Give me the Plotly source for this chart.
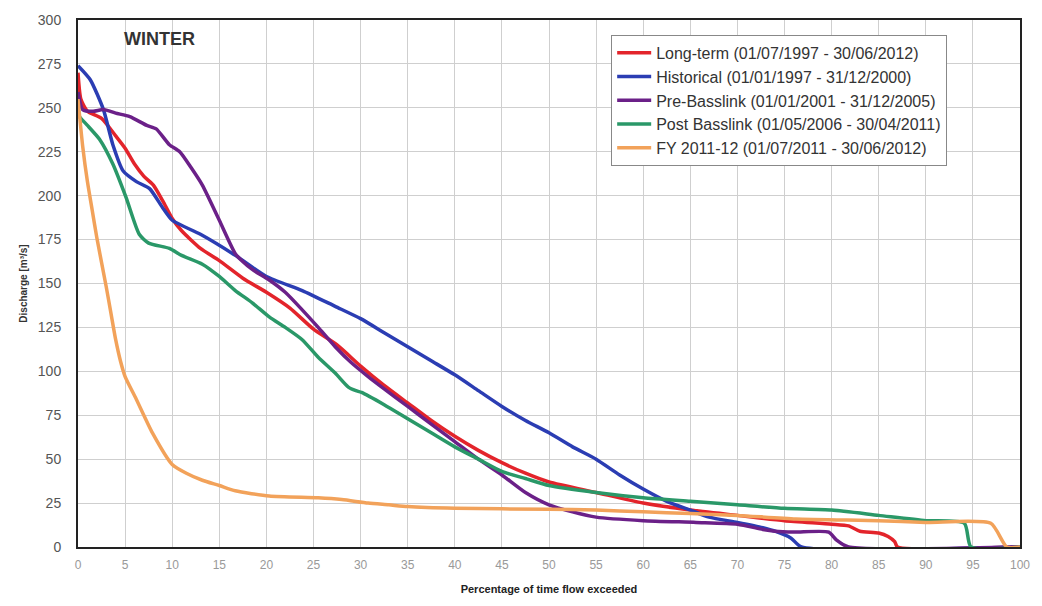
import plotly.graph_objects as go

# ---- data ----
names = [
    "Long-term (01/07/1997 - 30/06/2012)",
    "Historical (01/01/1997 - 31/12/2000)",
    "Pre-Basslink (01/01/2001 - 31/12/2005)",
    "Post Basslink (01/05/2006 - 30/04/2011)",
    "FY 2011-12 (01/07/2011 - 30/06/2012)",
]

longterm_x = [0, 0.3, 1, 2.5, 4, 5, 6, 7, 8, 9, 10, 11, 13, 15, 17.5, 20, 22.5, 25, 27.5, 30,
              32.5, 35, 37.5, 40, 42.5, 45, 47.5, 50, 55, 60, 65, 70, 75, 80, 81.8, 83, 85, 86,
              86.7, 87, 100]
longterm_y = [270, 255, 248, 244, 234, 227, 218, 211, 206, 197, 187, 180, 170, 163, 153, 145, 136,
              124, 115, 103, 92, 82, 72, 63, 55, 48, 42, 37, 31, 25, 21, 18, 15, 13, 12, 9, 8, 6,
              3, 0, 0]

historical_x = [0, 1.3, 2.7, 3.7, 4.8, 6.2, 7.6, 9, 10, 13, 16.7, 20, 23.8, 27.3, 30, 32.5, 35,
                37.5, 40, 42.5, 45, 47.5, 50, 52.5, 55, 57.5, 60, 62.5, 65, 67, 70, 72.7, 74,
                75.7, 76.8, 100]
historical_y = [274, 266, 249, 229, 214, 208, 204, 193, 186, 178, 166, 154, 146, 137, 130, 122, 114,
                106, 98, 89, 80, 72, 65, 57, 50, 41, 33, 26, 21, 17, 14, 11, 9, 5, 0, 0]

prebass_x = [0, 0.5, 1.6, 2.7, 4, 5.5, 7.3, 8.3, 9.7, 10.8, 12, 13.2, 15, 16.7, 17.4, 18.5, 20.3,
             22, 23.8, 25.5, 27.3, 29, 30.8, 32.5, 35, 37.5, 40, 42.5, 45, 47.5, 50, 52.5, 55, 60,
             65.6, 70, 72.7, 74, 76, 79.7, 80.5, 81.8, 100]
prebass_y = [259, 249, 248, 249, 247, 245, 240, 238, 229, 225, 216, 206, 186, 167, 163, 158, 152,
             145, 135, 125, 114, 105, 97, 90, 80, 70, 60, 50, 41, 31, 24, 20, 17, 15, 14, 13, 10,
             9, 8.5, 8.5, 4, 0, 0]

postbass_x = [0, 0.3, 1, 2.3, 3.7, 5.1, 6.5, 7.5, 9.7, 11, 13.2, 15, 16.7, 18.5, 20.3, 22, 23.8,
              25.5, 27.3, 28.7, 29.5, 30.1, 32.5, 35, 37.5, 40, 42.5, 45, 47.5, 50, 55, 60, 65,
              70, 75, 80, 85, 90, 94.1, 94.8, 100]
postbass_y = [246, 244, 240, 232, 218, 199, 178, 173, 170, 166, 161, 154, 146, 139, 131, 125, 118,
              108, 99, 91, 89, 88, 81, 73, 65, 57, 50, 43, 39, 35, 31, 28, 26, 24, 22, 21, 18, 15,
              13.5, 0, 0]

fy_x = [0, 0.5, 1, 1.5, 2, 3, 3.5, 4, 4.5, 5, 6.2, 7.9, 10, 11.5, 13.2, 15, 16.7, 20.3, 25.5, 28,
        30.8, 33, 35, 40, 50, 55, 60, 65, 70, 76.2, 85, 90, 96.9, 98.6, 100]
fy_y = [255, 228, 208, 192, 176, 148, 133, 118, 106, 97, 84, 65, 47, 42, 38, 35, 32, 29, 28, 27,
        25, 24, 23, 22, 21.5, 21, 20, 19, 18, 16, 15, 14, 13.5, 0, 0]

x_ticks = list(range(0, 101, 5))
y_ticks = list(range(0, 301, 25))

colors = ["#e3242b", "#2b3db3", "#6b2088", "#2a9868", "#f2a25a"]
series = [(longterm_x, longterm_y), (historical_x, historical_y), (prebass_x, prebass_y),
          (postbass_x, postbass_y), (fy_x, fy_y)]

fig = go.Figure()
for i, ((xs, ys), nm, c) in enumerate(zip(series, names, colors)):
    fig.add_trace(go.Scatter(x=xs, y=ys, mode="lines", name=nm, legendgroup=str(i),
                             line=dict(color=c, width=3.5, shape="spline", smoothing=0.6)))

fig.add_annotation(x=8.6, y=289, text="<b>WINTER</b>", showarrow=False,
                   font=dict(family="Arial, Liberation Sans", size=18, color="#333"))

fig.update_layout(
    width=1042, height=606,
    margin=dict(l=78, r=16, t=17, b=57),
    paper_bgcolor="white", plot_bgcolor="white",
    font=dict(family="Arial, Liberation Sans", color="#444"),
    legend=dict(x=0.566, y=0.972, xanchor="left", yanchor="top",
                bgcolor="white", bordercolor="#888", borderwidth=1,
                font=dict(size=16, color="#333"), tracegroupgap=7,
                itemwidth=34, traceorder="normal"),
    showlegend=True,
)
fig.update_xaxes(range=[0, 100], tickvals=x_ticks, showgrid=True, gridcolor="#cfcfcf",
                 gridwidth=1, showline=True, linecolor="#222", linewidth=2, mirror=True,
                 ticks="outside", ticklen=6, tickcolor="rgba(0,0,0,0)",
                 tickfont=dict(size=12, color="#999"), zeroline=False,
                 title=dict(text="<b>Percentage of time flow exceeded</b>",
                            font=dict(size=11, color="#222"), standoff=14))
fig.update_yaxes(range=[0, 300], tickvals=y_ticks, showgrid=True, gridcolor="#cfcfcf",
                 gridwidth=1, showline=True, linecolor="#222", linewidth=2, mirror=True,
                 ticks="outside", ticklen=12, tickcolor="rgba(0,0,0,0)",
                 tickfont=dict(size=14, color="#555"), zeroline=False,
                 title=dict(text="<b>Discharge [m³/s]</b>", font=dict(size=10, color="#333"),
                            standoff=8))

fig.write_html("out.html")
